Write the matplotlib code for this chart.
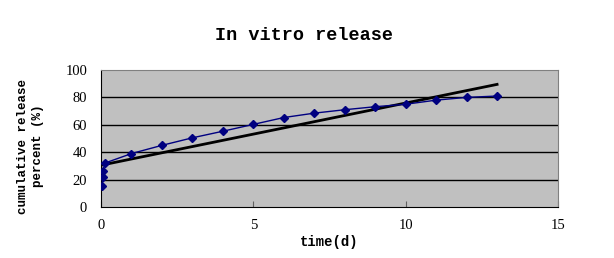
import matplotlib
matplotlib.use('Agg')
import matplotlib.pyplot as plt

# release data
days = [0.04, 0.06, 0.08, 0.12, 1, 2, 3, 4, 5, 6, 7, 8, 9, 10, 11, 12, 13]
release = [15, 22, 26.5, 32, 39, 45, 50.5, 55.3, 60.3, 65.3, 68.5, 71, 73.2, 75, 78, 80, 81]

# linear trendline end points
trend_days = [0, 13]
trend_release = [30.5, 89.5]

fig = plt.figure(figsize=(6.14, 2.58), dpi=100)
ax = fig.add_axes([0.1645, 0.1977, 0.7443, 0.531])
ax.set_facecolor('#C0C0C0')

for y in [20, 40, 60, 80]:
    ax.axhline(y, color='black', lw=1, zorder=1)

ax.plot(trend_days, trend_release, color='black', lw=2, zorder=2)
ax.plot(days, release, color='#000080', lw=1, marker='D', markersize=4, zorder=3)

ax.set_xlim(0, 15)
ax.set_ylim(0, 100)
ax.set_xticks([0, 5, 10, 15])
ax.set_yticks([0, 20, 40, 60, 80, 100])

for side in ['top', 'right']:
    ax.spines[side].set_color('#808080')
for side in ['left', 'bottom']:
    ax.spines[side].set_color('black')

ax.tick_params(axis='x', direction='in', length=4, color='#606060', pad=9)
ax.tick_params(axis='y', length=0, pad=10)
for lab in ax.get_xticklabels() + ax.get_yticklabels():
    lab.set_fontfamily('Liberation Serif')
    lab.set_fontsize(10.5)

# title sits centred on the figure, not on the plot area
fig.text(0.495, 0.864, 'In vitro release', fontfamily='Liberation Mono',
         fontweight='bold', fontsize=13.3, ha='center', va='center')
ax.set_xlabel('time(d)', fontfamily='Liberation Mono', fontweight='bold',
              fontsize=10, labelpad=2)
fig.text(0.049, 0.434, 'cumulative release\npercent (%)', fontfamily='Liberation Mono',
         fontweight='bold', fontsize=9, rotation=90, ha='center', va='center',
         multialignment='center', linespacing=1.35)

fig.savefig('out.png', dpi=100)
